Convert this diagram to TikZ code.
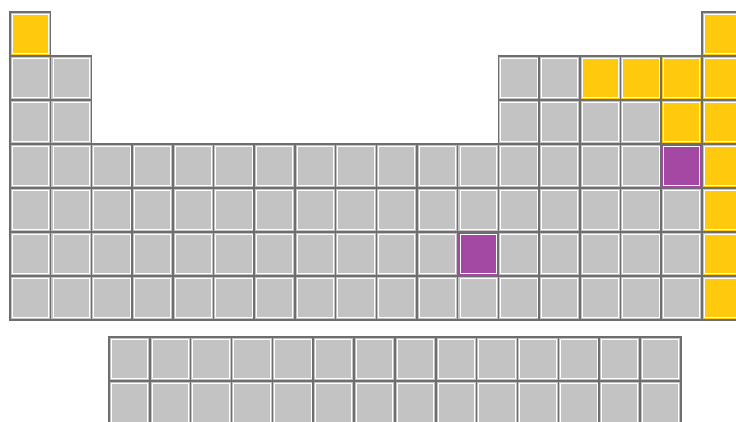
\documentclass[tikz,border=0pt]{standalone}
\usetikzlibrary{positioning}
\definecolor{cellgray}{HTML}{C3C3C3}
\definecolor{cellline}{HTML}{6E6E6E}
\definecolor{gasyellow}{HTML}{FFC90E}
\definecolor{liqpurple}{HTML}{A349A4}
\begin{document}
\begin{tikzpicture}[x=1pt, y=-1pt,
  cell/.style={rectangle, draw=cellline, line width=1.5pt, fill=cellgray,
    minimum width=40.7pt, minimum height=44pt, inner sep=0pt,
    path picture={\draw[white, line width=0.8pt]
      ([shift={(2.2pt,-2.2pt)}]path picture bounding box.north west) rectangle
      ([shift={(-2.2pt,2.2pt)}]path picture bounding box.south east);}},
  fcell/.style={cell, minimum width=40.85pt},
  gas/.style={fill=gasyellow},
  liquid/.style={fill=liqpurple},
]
\clip (0,0) rectangle (736,421);
\fill[white] (0,0) rectangle (736,421);

% === MAIN TABLE ===
\foreach \r/\cols in {1/{1,18}, 2/{1,2,13,14,15,16,17,18}, 3/{1,2,13,14,15,16,17,18},
    4/{1,...,18}, 5/{1,...,18}, 6/{1,...,18}, 7/{1,...,18}}{
  \foreach \c in \cols
    \node[cell] (e-\r-\c) at ({30.35+(\c-1)*40.7}, {34+(\r-1)*44}) {};
}

% gases at room temperature
\foreach \r/\c in {1/1, 1/18, 2/15, 2/16, 2/17, 2/18, 3/17, 3/18, 4/18, 5/18, 6/18, 7/18}
  \node[cell, gas] (g-\r-\c) at ({30.35+(\c-1)*40.7}, {34+(\r-1)*44}) {};

% liquids at room temperature
\foreach \r/\c in {4/17, 6/12}
  \node[cell, liquid] (l-\r-\c) at ({30.35+(\c-1)*40.7}, {34+(\r-1)*44}) {};

% === F-BLOCK ===
\foreach \r in {1,2}{
  \foreach \c in {1,...,14}
    \node[fcell] (f-\r-\c) at ({129.4+(\c-1)*40.85}, {359+(\r-1)*44}) {};
}
\end{tikzpicture}
\end{document}
